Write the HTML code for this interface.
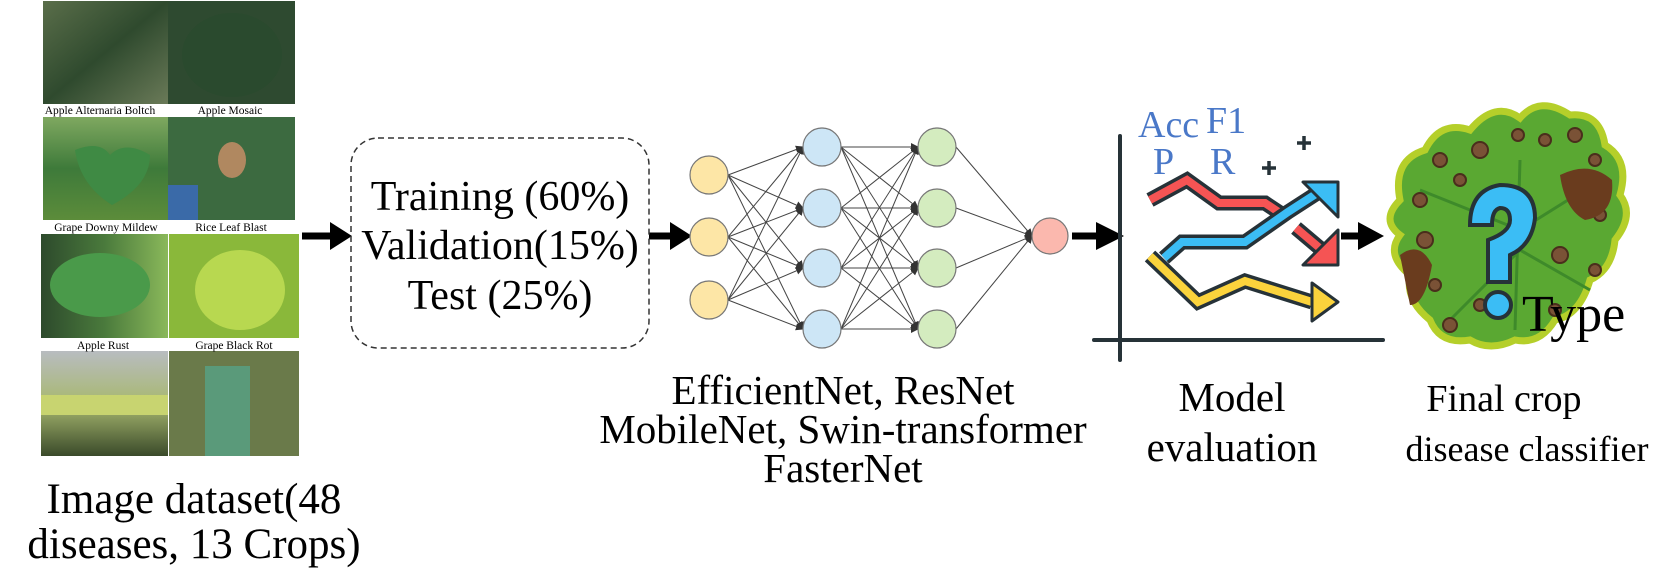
<!DOCTYPE html>
<html><head><meta charset="utf-8"><style>html,body{margin:0;padding:0;background:#fff}svg{display:block}</style></head>
<body>
<svg width="1660" height="585" viewBox="0 0 1660 585" xmlns="http://www.w3.org/2000/svg" font-family="'Liberation Serif', serif">
<defs>
<marker id="ah" markerWidth="8" markerHeight="8" refX="7" refY="4" orient="auto" markerUnits="userSpaceOnUse"><path d="M0,0 L8,4 L0,8 z" fill="#333"/></marker>
<linearGradient id="g1" x1="0" y1="0" x2="1" y2="1"><stop offset="0" stop-color="#5a6e4a"/><stop offset="0.5" stop-color="#2f4a2e"/><stop offset="1" stop-color="#6a7a58"/></linearGradient>
<linearGradient id="g2" x1="0" y1="0" x2="0" y2="1"><stop offset="0" stop-color="#7fa860"/><stop offset="0.5" stop-color="#3e7a3a"/><stop offset="1" stop-color="#5c8c3a"/></linearGradient>
<linearGradient id="g3" x1="0" y1="0" x2="1" y2="0"><stop offset="0" stop-color="#2d4a2c"/><stop offset="0.5" stop-color="#4a7a3c"/><stop offset="1" stop-color="#8ab85a"/></linearGradient>
<linearGradient id="g4" x1="0" y1="0" x2="0" y2="1"><stop offset="0" stop-color="#b8bcc0"/><stop offset="0.5" stop-color="#a8b870"/><stop offset="1" stop-color="#3a4a2a"/></linearGradient>
</defs>

<!-- image grid -->
<rect x="43" y="1" width="125" height="103" fill="url(#g1)"/>
<rect x="168" y="1" width="127" height="103" fill="#2e4a30"/>
<ellipse cx="232" cy="55" rx="50" ry="42" fill="#2a4a2e"/>
<rect x="43" y="117" width="125" height="103" fill="url(#g2)"/>
<path d="M75 150 Q100 140 110 155 Q125 140 150 155 Q150 185 112 205 Q80 185 75 150z" fill="#3f8a44"/>
<rect x="168" y="117" width="127" height="103" fill="#3c6a40"/>
<rect x="168" y="185" width="30" height="35" fill="#3a6aa8"/>
<ellipse cx="232" cy="160" rx="14" ry="18" fill="#b08860"/>
<rect x="41" y="234" width="127" height="104" fill="url(#g3)"/>
<ellipse cx="100" cy="285" rx="50" ry="32" fill="#4a9a4a"/>
<rect x="169" y="234" width="130" height="104" fill="#8ab83a"/>
<ellipse cx="240" cy="290" rx="45" ry="40" fill="#b8d850"/>
<rect x="41" y="351" width="127" height="105" fill="url(#g4)"/>
<rect x="41" y="395" width="127" height="20" fill="#c8d470"/>
<rect x="169" y="351" width="130" height="105" fill="#6a7a4a"/>
<rect x="205" y="366" width="45" height="90" fill="#5a9a7a"/>
<g font-size="11.5" text-anchor="middle" fill="#000">
<text x="100" y="114">Apple Alternaria Boltch</text><text x="230" y="114">Apple Mosaic</text>
<text x="106" y="231">Grape Downy Mildew</text><text x="231" y="231">Rice Leaf Blast</text>
<text x="103" y="349">Apple Rust</text><text x="234" y="349">Grape Black Rot</text>
</g>
<g font-size="43" text-anchor="middle" fill="#000">
<text x="194" y="513">Image dataset(48</text><text x="194" y="558">diseases, 13 Crops)</text>
</g>

<!-- arrows -->
<g stroke="#000" stroke-width="7"><line x1="302" y1="236" x2="334" y2="236"/><line x1="649" y1="236" x2="674" y2="236"/><line x1="1072" y1="236" x2="1100" y2="236"/><line x1="1341" y1="236" x2="1362" y2="236"/></g>
<g fill="#000"><path d="M330 222 L352 236 L330 250z"/><path d="M670 222 L692 236 L670 250z"/><path d="M1096 222 L1124 236 L1096 250z"/><path d="M1358 222 L1384 236 L1358 250z"/></g>

<!-- dashed box -->
<rect x="351" y="138" width="298" height="210" rx="27" fill="none" stroke="#333" stroke-width="1.5" stroke-dasharray="6,4"/>
<g font-size="42" text-anchor="middle" fill="#000">
<text x="500" y="210">Training (60%)</text><text x="500" y="259">Validation(15%)</text><text x="500" y="309">Test (25%)</text>
</g>

<!-- neural net -->
<g stroke="#444" stroke-width="1" marker-end="url(#ah)">
<line x1="728" y1="175" x2="803" y2="147"/><line x1="728" y1="175" x2="803" y2="208"/><line x1="728" y1="175" x2="803" y2="268"/><line x1="728" y1="175" x2="803" y2="329"/>
<line x1="728" y1="237" x2="803" y2="147"/><line x1="728" y1="237" x2="803" y2="208"/><line x1="728" y1="237" x2="803" y2="268"/><line x1="728" y1="237" x2="803" y2="329"/>
<line x1="728" y1="300" x2="803" y2="147"/><line x1="728" y1="300" x2="803" y2="208"/><line x1="728" y1="300" x2="803" y2="268"/><line x1="728" y1="300" x2="803" y2="329"/>
<line x1="841" y1="147" x2="918" y2="147"/><line x1="841" y1="147" x2="918" y2="208"/><line x1="841" y1="147" x2="918" y2="268"/><line x1="841" y1="147" x2="918" y2="329"/>
<line x1="841" y1="208" x2="918" y2="147"/><line x1="841" y1="208" x2="918" y2="208"/><line x1="841" y1="208" x2="918" y2="268"/><line x1="841" y1="208" x2="918" y2="329"/>
<line x1="841" y1="268" x2="918" y2="147"/><line x1="841" y1="268" x2="918" y2="208"/><line x1="841" y1="268" x2="918" y2="268"/><line x1="841" y1="268" x2="918" y2="329"/>
<line x1="841" y1="329" x2="918" y2="147"/><line x1="841" y1="329" x2="918" y2="208"/><line x1="841" y1="329" x2="918" y2="268"/><line x1="841" y1="329" x2="918" y2="329"/>
<line x1="956" y1="147" x2="1032" y2="236"/><line x1="956" y1="208" x2="1032" y2="236"/><line x1="956" y1="268" x2="1032" y2="236"/><line x1="956" y1="329" x2="1032" y2="236"/>
</g>
<g stroke="#777" stroke-width="1.2">
<circle cx="709" cy="175" r="19" fill="#fde6a6"/><circle cx="709" cy="237" r="19" fill="#fde6a6"/><circle cx="709" cy="300" r="19" fill="#fde6a6"/>
<circle cx="822" cy="147" r="19" fill="#cde6f6"/><circle cx="822" cy="208" r="19" fill="#cde6f6"/><circle cx="822" cy="268" r="19" fill="#cde6f6"/><circle cx="822" cy="329" r="19" fill="#cde6f6"/>
<circle cx="937" cy="147" r="19" fill="#d4ecbf"/><circle cx="937" cy="208" r="19" fill="#d4ecbf"/><circle cx="937" cy="268" r="19" fill="#d4ecbf"/><circle cx="937" cy="329" r="19" fill="#d4ecbf"/>
<circle cx="1050" cy="236" r="18" fill="#fbb8ae"/>
</g>
<g font-size="41" text-anchor="middle" fill="#000">
<text x="843" y="404">EfficientNet, ResNet</text><text x="843" y="443">MobileNet, Swin-transformer</text><text x="843" y="482">FasterNet</text>
</g>

<!-- chart -->
<g stroke="#263238" stroke-width="4" stroke-linecap="round"><line x1="1120" y1="136" x2="1120" y2="360"/><line x1="1094" y1="340" x2="1383" y2="340"/></g>
<g font-size="38" fill="#4a78c8"><text x="1138" y="137">Acc</text><text x="1206" y="133">F1</text><text x="1153" y="174">P</text><text x="1210" y="174">R</text></g>
<g stroke="#263238" stroke-width="3.5"><line x1="1262" y1="168" x2="1276" y2="168"/><line x1="1269" y1="161" x2="1269" y2="175"/><line x1="1297" y1="143" x2="1311" y2="143"/><line x1="1304" y1="136" x2="1304" y2="150"/></g>
<g fill="none" stroke-linejoin="miter" stroke-linecap="butt">
<polyline points="1150,200 1187,180 1219,203 1265,203 1280,213" stroke="#263238" stroke-width="15"/>
<polyline points="1150,200 1187,180 1219,203 1265,203 1280,213" stroke="#f55454" stroke-width="8"/>
<path d="M1296 228 L1322 250" stroke="#263238" stroke-width="15"/><path d="M1296 228 L1322 250" stroke="#f55454" stroke-width="8"/>
<polyline points="1164,258 1182,242 1245,242 1288,212 1322,190" stroke="#263238" stroke-width="15"/>
<polyline points="1164,258 1182,242 1245,242 1288,212 1322,190" stroke="#3bbdf5" stroke-width="8"/>
<polyline points="1150,256 1198,302 1245,281 1312,302" stroke="#263238" stroke-width="15"/>
<polyline points="1150,256 1198,302 1245,281 1312,302" stroke="#fbd33c" stroke-width="8"/>
</g>
<g stroke="#263238" stroke-width="3" stroke-linejoin="round">
<path d="M1303 182 L1338 182 L1338 217 z" fill="#3bbdf5"/>
<path d="M1303 265 L1338 265 L1338 230 z" fill="#f55454"/>
<path d="M1312 283 L1338 302 L1312 321 z" fill="#fbd33c"/>
</g>
<g font-size="41" text-anchor="middle" fill="#000"><text x="1232" y="411">Model</text><text x="1232" y="461">evaluation</text></g>

<!-- leaf -->
<path d="M1400 200 Q1392 160 1425 150 Q1440 120 1470 130 Q1495 100 1520 118 Q1540 95 1570 115 Q1600 112 1605 145 Q1630 160 1620 195 Q1635 215 1615 240 Q1612 270 1590 280 Q1580 315 1555 320 Q1540 345 1515 340 Q1490 352 1470 340 Q1440 345 1430 320 Q1405 300 1410 275 Q1385 255 1400 235 Q1380 220 1400 200z" fill="#5aa832" stroke="#b5cf2a" stroke-width="7"/>
<g stroke="#3e8a2a" stroke-width="3" fill="none"><path d="M1515 330 L1520 160"/><path d="M1520 230 L1420 190"/><path d="M1520 230 L1600 180"/><path d="M1520 250 L1450 320"/><path d="M1520 250 L1590 290"/></g>
<g fill="#7a5236" stroke="#4a2e1c" stroke-width="2">
<circle cx="1440" cy="160" r="7"/><circle cx="1480" cy="150" r="8"/><circle cx="1518" cy="135" r="6"/><circle cx="1545" cy="140" r="6"/><circle cx="1575" cy="135" r="7"/><circle cx="1420" cy="200" r="7"/><circle cx="1460" cy="180" r="6"/><circle cx="1595" cy="160" r="6"/><circle cx="1425" cy="240" r="8"/><circle cx="1450" cy="325" r="7"/><circle cx="1560" cy="255" r="8"/><circle cx="1595" cy="270" r="6"/><circle cx="1435" cy="285" r="6"/><circle cx="1555" cy="310" r="6"/><circle cx="1600" cy="215" r="6"/><circle cx="1480" cy="305" r="6"/>
</g>
<path d="M1560 175 Q1590 160 1612 180 Q1615 215 1585 220 Q1565 210 1560 175z" fill="#6a3c1e"/>
<path d="M1400 255 Q1420 240 1432 265 Q1425 305 1410 305z" fill="#6a3c1e"/>
<path d="M1470 225 Q1470 190 1500 185 Q1535 185 1535 218 Q1532 245 1510 255 L1510 282 L1488 282 L1488 240 Q1510 232 1510 220 Q1510 208 1500 208 Q1492 210 1492 225z" fill="#3bbdf5" stroke="#263238" stroke-width="4"/>
<circle cx="1498" cy="305" r="13" fill="#3bbdf5" stroke="#263238" stroke-width="4"/>
<text x="1522" y="331" font-size="52" fill="#000">Type</text>
<g text-anchor="middle" fill="#000"><text x="1504" y="411" font-size="38">Final crop</text><text x="1527" y="461" font-size="36">disease classifier</text></g>
</svg>
</body></html>
